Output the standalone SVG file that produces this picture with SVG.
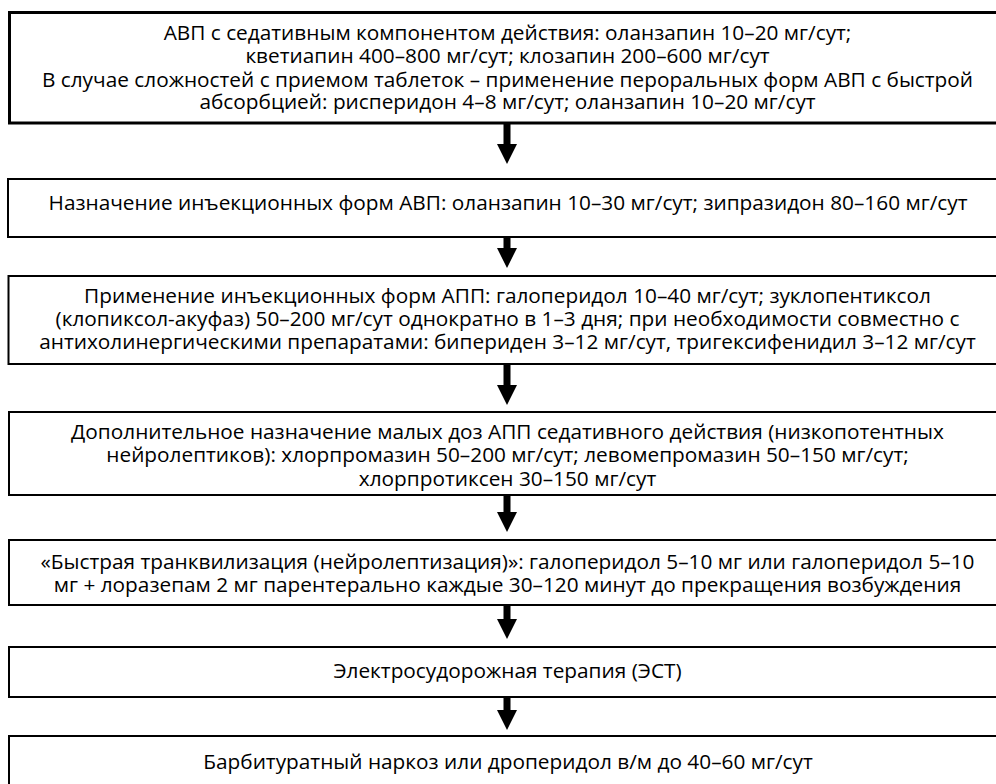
<svg xmlns="http://www.w3.org/2000/svg" width="996" height="784" viewBox="0 0 996 784">
<style>
  .box { fill: #ffffff; stroke: #000000; stroke-width: 2; }
  .thick { stroke-width: 3; }
  .t { font-family: "Open Sans", "Noto Sans", "DejaVu Sans", sans-serif; font-size: 20.8px; fill: #000000; text-anchor: middle; }
  .arrow { fill: #000000; stroke: none; }
</style>
<rect width="996" height="784" fill="#ffffff"/>
<g id="connectors">
  <path class="arrow" d="M503.5,123 H510.5 V144 H517 L507,164 L497,144 H503.5 Z"/>
  <path class="arrow" d="M503.5,237 H510.5 V248 H517 L507,268 L497,248 H503.5 Z"/>
  <path class="arrow" d="M503.5,364 H510.5 V385 H517 L507,405 L497,385 H503.5 Z"/>
  <path class="arrow" d="M503.5,495 H510.5 V512 H517 L507,532 L497,512 H503.5 Z"/>
  <path class="arrow" d="M503.5,605 H510.5 V619 H517 L507,639 L497,619 H503.5 Z"/>
  <path class="arrow" d="M503.5,697 H510.5 V710 H517 L507,730 L497,710 H503.5 Z"/>
</g>
<g id="node1">
  <rect class="box thick" x="9.5" y="12.5" width="996" height="110.5"/>
  <text class="t" x="507.5" y="39.5">АВП с седативным компонентом действия: оланзапин 10–20 мг/сут;</text>
  <text class="t" x="507.5" y="62.5">кветиапин 400–800 мг/сут; клозапин 200–600 мг/сут</text>
  <text class="t" x="507.5" y="86.5">В случае сложностей с приемом таблеток – применение пероральных форм АВП с быстрой</text>
  <text class="t" x="507.5" y="109">абсорбцией: рисперидон 4–8 мг/сут; оланзапин 10–20 мг/сут</text>
</g>
<g id="node2">
  <rect class="box" x="8" y="179" width="996" height="58"/>
  <text class="t" x="508" y="210">Назначение инъекционных форм АВП: оланзапин 10–30 мг/сут; зипразидон 80–160 мг/сут</text>
</g>
<g id="node3">
  <rect class="box" x="8.5" y="276" width="996" height="88"/>
  <text class="t" x="507.5" y="302.5">Применение инъекционных форм АПП: галоперидол 10–40 мг/сут; зуклопентиксол</text>
  <text class="t" x="507.5" y="325.5">(клопиксол-акуфаз) 50–200 мг/сут однократно в 1–3 дня; при необходимости совместно с</text>
  <text class="t" x="507.5" y="348.5">антихолинергическими препаратами: бипериден 3–12 мг/сут, тригексифенидил 3–12 мг/сут</text>
</g>
<g id="node4">
  <rect class="box" x="9" y="412" width="996" height="83"/>
  <text class="t" x="507.5" y="439">Дополнительное назначение малых доз АПП седативного действия (низкопотентных</text>
  <text class="t" x="507.5" y="462">нейролептиков): хлорпромазин 50–200 мг/сут; левомепромазин 50–150 мг/сут;</text>
  <text class="t" x="507.5" y="486">хлорпротиксен 30–150 мг/сут</text>
  <line x1="9" y1="495" x2="1005" y2="495" stroke="#000" stroke-width="2"/>
</g>
<g id="node5">
  <rect class="box" x="9" y="540" width="996" height="65"/>
  <text class="t" x="507.5" y="568.5">«Быстрая транквилизация (нейролептизация)»: галоперидол 5–10 мг или галоперидол 5–10</text>
  <text class="t" x="507.5" y="591.5">мг + лоразепам 2 мг парентерально каждые 30–120 минут до прекращения возбуждения</text>
</g>
<g id="node6">
  <rect class="box" x="9" y="647" width="996" height="50"/>
  <text class="t" x="507.5" y="678">Электросудорожная терапия (ЭСТ)</text>
</g>
<g id="node7">
  <rect class="box" x="9" y="736" width="996" height="70"/>
  <text class="t" x="508" y="769">Барбитуратный наркоз или дроперидол в/м до 40–60 мг/сут</text>
</g>
</svg>
